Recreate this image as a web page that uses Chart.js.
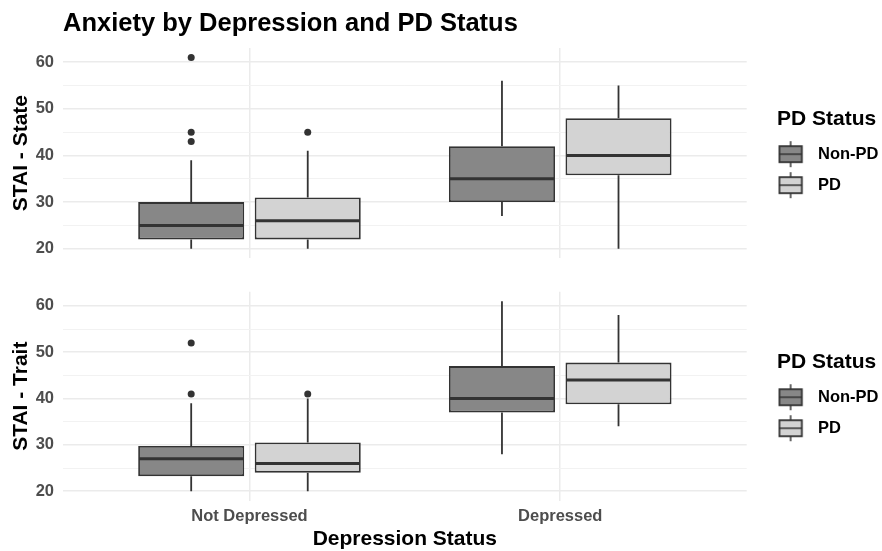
<!DOCTYPE html>
<html>
<head>
<meta charset="utf-8">
<script src="https://cdn.jsdelivr.net/npm/chart.js"></script>
<style>
  body { margin: 0; background: #fff; }
  #wrap { position: relative; width: 882px; height: 551px; }
  .panel { position: absolute; left: 0; width: 882px; }
</style>
</head>
<body>
<div id="wrap">
  <div class="panel" style="top:0;height:270px"><canvas id="stateChart"></canvas></div>
  <div class="panel" style="top:270px;height:281px"><canvas id="traitChart"></canvas></div>
</div>
<script>
const groups = ["Not Depressed", "Depressed"];
const pdStatus = ["Non-PD", "PD"];
const yMajor = [20, 30, 40, 50, 60];
const yMinor = [25, 35, 45, 55];

// per group: [lower whisker, q1, median, q3, upper whisker]
const stateNonPd = [[20, 22, 25, 30, 39], [27, 30, 35, 42, 56]];
const statePd = [[20, 22, 26, 31, 41], [20, 35.75, 40, 48, 55]];
const stateNonPdOut = [[61, 45, 43], []];
const statePdOut = [[45], []];

const traitNonPd = [[20, 23.25, 27, 29.75, 39], [28, 37, 40, 47, 61]];
const traitPd = [[20, 24, 26, 30.5, 40], [34, 38.75, 44, 47.75, 58]];
const traitNonPdOut = [[52, 41], []];
const traitPdOut = [[41], []];

const fills = ["#878787", "#D3D3D3"];
const ink = "#333333";
const tickGray = "#4D4D4D";

Chart.defaults.font.family = "'Liberation Sans', Arial, sans-serif";
Chart.defaults.animation = false;

// legend key: little boxplot glyph
function keyGlyph(fill) {
  const c = document.createElement("canvas");
  c.width = 46;
  c.height = 28;
  const g = c.getContext("2d");
  g.strokeStyle = ink;
  g.lineWidth = 1.5;
  g.beginPath();
  g.moveTo(13, 1);
  g.lineTo(13, 27);
  g.stroke();
  g.fillStyle = fill;
  g.fillRect(1.75, 6, 22.5, 16);
  g.lineWidth = 1.8;
  g.strokeRect(1.75, 6, 22.5, 16);
  g.lineWidth = 1.5;
  g.beginPath();
  g.moveTo(1.75, 14);
  g.lineTo(24.25, 14);
  g.stroke();
  return c;
}
const keys = fills.map(keyGlyph);

const boxExtras = {
  id: "boxExtras",
  beforeDatasetsDraw(chart) {
    const ctx = chart.ctx;
    const y = chart.scales.y;
    chart.data.datasets.forEach((ds, i) => {
      chart.getDatasetMeta(i).data.forEach((bar, j) => {
        const s = ds.stats[j];
        ctx.save();
        ctx.strokeStyle = ink;
        ctx.lineWidth = 1.8;
        ctx.beginPath();
        ctx.moveTo(bar.x, y.getPixelForValue(s[0]));
        ctx.lineTo(bar.x, y.getPixelForValue(s[1]));
        ctx.moveTo(bar.x, y.getPixelForValue(s[3]));
        ctx.lineTo(bar.x, y.getPixelForValue(s[4]));
        ctx.stroke();
        ctx.restore();
      });
    });
  },
  afterDatasetsDraw(chart) {
    const ctx = chart.ctx;
    const y = chart.scales.y;
    chart.data.datasets.forEach((ds, i) => {
      chart.getDatasetMeta(i).data.forEach((bar, j) => {
        const s = ds.stats[j];
        const half = bar.width / 2 - 0.9;
        ctx.save();
        ctx.strokeStyle = ink;
        ctx.lineWidth = 3;
        ctx.beginPath();
        ctx.moveTo(bar.x - half, y.getPixelForValue(s[2]));
        ctx.lineTo(bar.x + half, y.getPixelForValue(s[2]));
        ctx.stroke();
        ctx.fillStyle = ink;
        ds.outliers[j].forEach(v => {
          ctx.beginPath();
          ctx.arc(bar.x, y.getPixelForValue(v), 3.5, 0, Math.PI * 2);
          ctx.fill();
        });
        ctx.restore();
      });
    });
  }
};

function makeDatasets(nonPd, pd, nonPdOut, pdOut) {
  return [nonPd, pd].map((stats, k) => ({
    label: pdStatus[k],
    data: stats.map((s, j) => ({ x: j, y: [s[1], s[3]] })),
    stats: stats,
    outliers: [nonPdOut, pdOut][k],
    backgroundColor: fills[k],
    borderColor: ink,
    borderWidth: 1.8,
    borderSkipped: false,
    categoryPercentage: 0.75,
    barPercentage: 0.91
  }));
}

function makeOptions(yTitle, bottom) {
  return {
    responsive: true,
    maintainAspectRatio: false,
    layout: { padding: { top: bottom ? 21.7 : 0, left: 0, right: 0, bottom: 0 } },
    scales: {
      x: {
        type: "linear",
        min: -0.6,
        max: 1.6,
        offset: false,
        afterBuildTicks: s => { s.ticks = groups.map((g, i) => ({ value: i })); },
        ticks: {
          display: bottom,
          callback: v => groups[v],
          autoSkip: false,
          maxRotation: 0,
          padding: 6.1,
          color: tickGray,
          font: { size: 16.5, weight: "bold" }
        },
        grid: { color: "#EBEBEB", lineWidth: 1.5, drawTicks: false, offset: false },
        border: { display: false },
        title: {
          display: bottom,
          text: "Depression Status",
          color: "#000",
          font: { size: 21, weight: "bold", lineHeight: 1 },
          padding: { top: 0, bottom: 1.2 }
        },
        afterFit: s => { s.height = bottom ? 50.3 : 11.7; }
      },
      y: {
        min: 17.95,
        max: 63.05,
        afterBuildTicks: s => {
          s.ticks = yMajor.concat(yMinor).sort((a, b) => a - b).map(v => ({ value: v }));
        },
        ticks: {
          callback: v => (yMajor.includes(v) ? String(v) : ""),
          padding: 9,
          color: tickGray,
          font: { size: 16.5, weight: "bold" }
        },
        grid: {
          color: c => (yMajor.includes(c.tick.value) ? "#EBEBEB" : "#F2F2F2"),
          lineWidth: c => (yMajor.includes(c.tick.value) ? 1.5 : 1),
          drawTicks: false
        },
        border: { display: false },
        title: {
          display: true,
          text: yTitle,
          color: "#000",
          font: { size: 21, weight: "bold" },
          padding: { top: 8.7, bottom: 0 }
        },
        afterFit: s => {
          s.width = 63;
          s.paddingTop = 0;
          s.paddingBottom = 0;
        }
      },
      yr: {
        position: "right",
        display: true,
        ticks: { display: false },
        grid: { display: false },
        border: { display: false },
        afterFit: s => { s.width = 30.3; }
      }
    },
    plugins: {
      tooltip: { enabled: false },
      title: {
        display: !bottom,
        text: "Anxiety by Depression and PD Status",
        align: "start",
        fullSize: false,
        color: "#000",
        font: { size: 25.5, weight: "bold" },
        padding: { top: 8.3, bottom: 9.1 }
      },
      legend: {
        position: "right",
        align: "center",
        fullSize: false,
        maxWidth: 105,
        title: {
          display: true,
          text: "PD Status",
          position: "start",
          color: "#000",
          font: { size: 21, weight: "bold", lineHeight: 1 },
          padding: { top: 10.25, bottom: 1.75 }
        },
        labels: {
          usePointStyle: true,
          pointStyleWidth: 18.25,
          padding: 14.5,
          color: "#000",
          font: { size: 16.5, weight: "bold" },
          generateLabels: () => pdStatus.map((t, k) => ({
            text: t,
            pointStyle: keys[k],
            fillStyle: fills[k],
            strokeStyle: ink,
            lineWidth: 0,
            hidden: false,
            datasetIndex: k
          }))
        }
      }
    }
  };
}

new Chart("stateChart", {
  type: "bar",
  data: { datasets: makeDatasets(stateNonPd, statePd, stateNonPdOut, statePdOut) },
  options: makeOptions("STAI - State", false),
  plugins: [boxExtras]
});

new Chart("traitChart", {
  type: "bar",
  data: { datasets: makeDatasets(traitNonPd, traitPd, traitNonPdOut, traitPdOut) },
  options: makeOptions("STAI - Trait", true),
  plugins: [boxExtras]
});
</script>
</body>
</html>
